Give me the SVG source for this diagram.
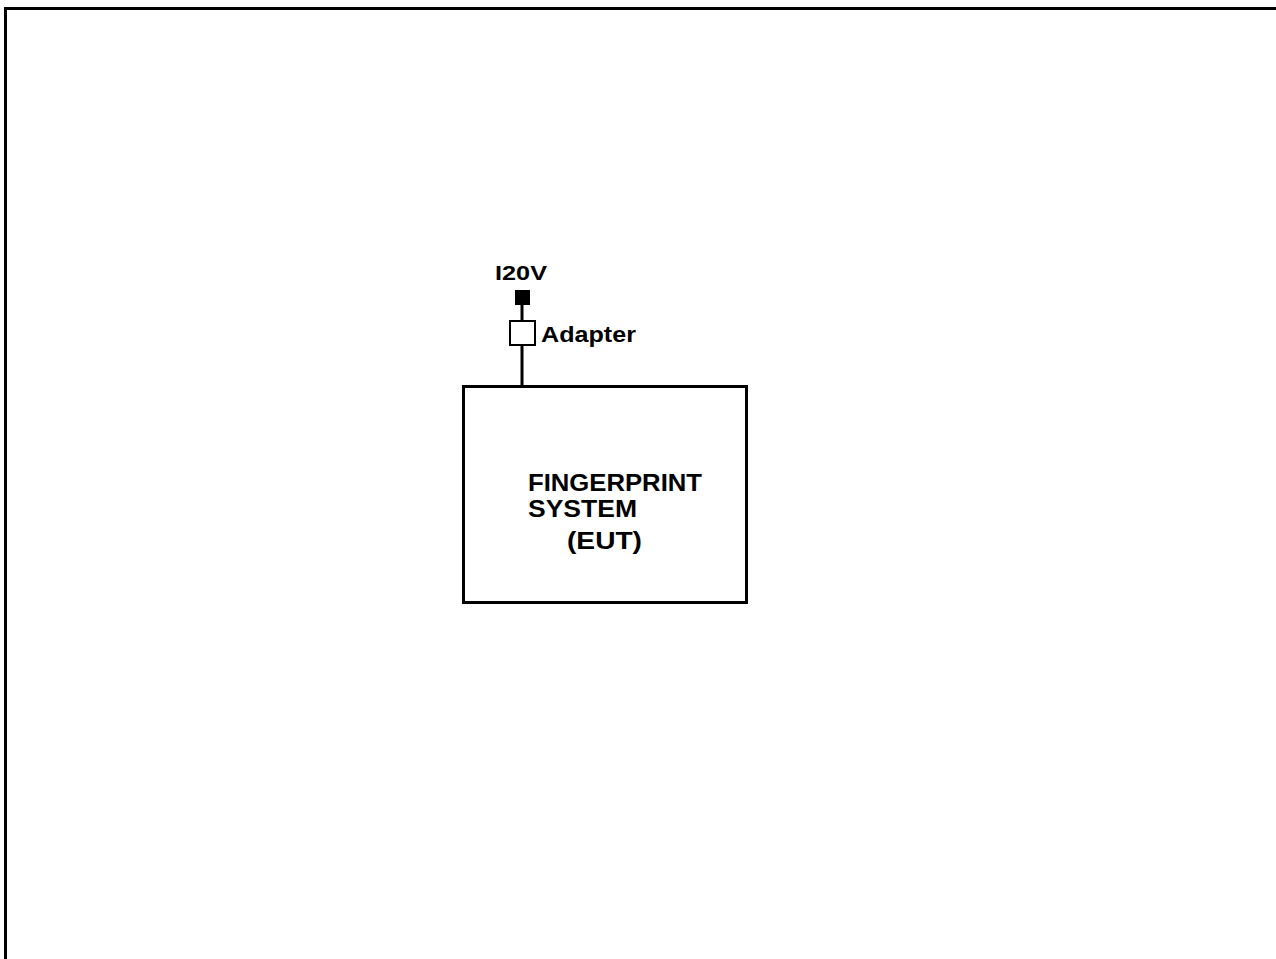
<svg xmlns="http://www.w3.org/2000/svg" width="1276" height="959" viewBox="0 0 1276 959">
<style>
.ln{stroke:#000;stroke-width:3;fill:none}
.t{font-family:"Liberation Sans",Arial,sans-serif;font-weight:bold;fill:#000}
</style>
<rect width="1276" height="959" fill="#fff"/>
<path class="ln" d="M5.5,959 V8.5 H1276"/>
<g id="connectors">
<line class="ln" x1="522" y1="305" x2="522" y2="320"/>
<line class="ln" x1="522" y1="345" x2="522" y2="386"/>
</g>
<g id="power">
<text class="t" x="495" y="280" font-size="19.5" textLength="52" lengthAdjust="spacingAndGlyphs">I20V</text>
<rect x="515" y="290" width="15" height="15" fill="#000"/>
</g>
<g id="adapter">
<rect x="510" y="321" width="25" height="24" fill="#fff" stroke="#000" stroke-width="2"/>
<text class="t" x="541" y="342" font-size="22" textLength="95" lengthAdjust="spacingAndGlyphs">Adapter</text>
</g>
<g id="eut">
<rect x="463.5" y="386.5" width="283" height="216" fill="#fff" stroke="#000" stroke-width="3"/>
<text class="t" x="528" y="491" font-size="23" textLength="174" lengthAdjust="spacingAndGlyphs">FINGERPRINT</text>
<text class="t" x="528" y="517" font-size="23" textLength="109" lengthAdjust="spacingAndGlyphs">SYSTEM</text>
<text class="t" x="567" y="549" font-size="23" textLength="75" lengthAdjust="spacingAndGlyphs">(EUT)</text>
</g>
</svg>
